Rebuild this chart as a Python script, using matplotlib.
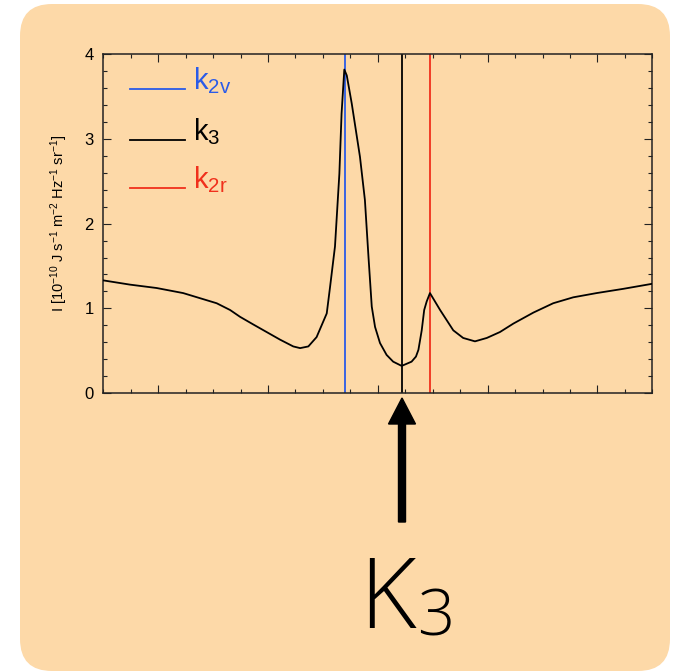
import numpy as np
import matplotlib
matplotlib.use('Agg')
import matplotlib.pyplot as plt
from matplotlib.patches import FancyBboxPatch, FancyArrow
from matplotlib.transforms import IdentityTransform
from matplotlib.ticker import MultipleLocator, FixedLocator, NullFormatter

plt.rcParams.update({'font.family': ['Liberation Sans', 'DejaVu Sans'],
                     'mathtext.fontset': 'custom',
                     'mathtext.rm': 'Liberation Sans',
                     'mathtext.it': 'Liberation Sans'})

# line profile
wave = [0, 0.97, 1.94, 2.91, 3.52, 4.13, 4.62, 4.98, 5.46, 5.95, 6.44, 6.92, 7.17, 7.47,
        7.77, 8.14, 8.26, 8.44, 8.6, 8.68, 8.78, 8.87, 9.05, 9.35, 9.53, 9.66, 9.78, 9.9,
        10.08, 10.32, 10.56, 10.87, 11.23, 11.39, 11.48, 11.6, 11.69, 11.78, 11.9, 12.27,
        12.75, 13.11, 13.54, 13.97, 14.45, 14.94, 15.67, 16.39, 17.12, 17.97, 18.94, 20]
intensity = [1.33, 1.28, 1.24, 1.18, 1.12, 1.06, 0.98, 0.90, 0.81, 0.72, 0.63, 0.55, 0.53,
             0.55, 0.66, 0.94, 1.25, 1.73, 2.59, 3.3, 3.82, 3.75, 3.42, 2.79, 2.28, 1.61,
             1.02, 0.78, 0.59, 0.45, 0.37, 0.32, 0.37, 0.43, 0.51, 0.74, 0.98, 1.08, 1.18,
             0.98, 0.74, 0.65, 0.61, 0.65, 0.72, 0.82, 0.95, 1.06, 1.13, 1.18, 1.23, 1.29]

k2v, k3, k2r = 8.79, 10.87, 11.9
line_names = [r'$\mathregular{k_{2v}}$', r'$\mathregular{k_3}$', r'$\mathregular{k_{2r}}$']
line_pos = [k2v, k3, k2r]
line_colors = ['#2a5be8', 'black', '#f0301c']
legend_y = [3.59, 2.99, 2.42]

W, H = 679, 671
fig = plt.figure(figsize=(W / 100, H / 100), dpi=100)
fig.patch.set_facecolor('white')

bg = FancyBboxPatch((20 + 32, 0 + 32), 650 - 64, 667 - 64,
                    boxstyle='round,pad=32', transform=IdentityTransform(),
                    facecolor='#fdd9a8', edgecolor='none', zorder=-5)
fig.patches.append(bg)

ax = fig.add_axes([103.3 / W, 1 - 393 / H, 549 / W, 338.7 / H])
ax.set_facecolor('none')
ax.plot(wave, intensity, color='black', lw=1.3, zorder=3)
for p, c in zip(line_pos, line_colors):
    ax.axvline(p, color=c, lw=1.3, zorder=2)

for name, c, ly in zip(line_names, line_colors, legend_y):
    ax.plot([0.97, 2.98], [ly, ly], color=c, lw=1.3)
    ax.text(3.27, ly, name, color=c, fontsize=21, va='baseline', ha='left')

ax.set_xlim(0, 20)
ax.set_ylim(0, 4)
ax.xaxis.set_major_locator(FixedLocator([2, 6, 10, 14, 18]))
ax.xaxis.set_minor_locator(MultipleLocator(1))
ax.xaxis.set_major_formatter(NullFormatter())
ax.yaxis.set_major_locator(MultipleLocator(1))
ax.yaxis.set_minor_locator(MultipleLocator(0.2))
ax.tick_params(which='both', direction='in', top=True, right=True, width=0.8,
               color='#222222')
ax.tick_params(which='major', length=5.5, labelsize=12, pad=7)
ax.tick_params(which='minor', length=3)
for s in ax.spines.values():
    s.set_linewidth(1.1)
    s.set_color('#222222')

ax.set_ylabel(r'I [10$^{\mathregular{-10}}$ J s$^{\mathregular{-1}}$ m$^{\mathregular{-2}}$ '
              r'Hz$^{\mathregular{-1}}$ sr$^{\mathregular{-1}}$]', fontsize=10.5, labelpad=10)

# arrow pointing at k3
arrow = FancyArrow(402, H - 522, 0, 124, width=7, head_width=27, head_length=26,
                   length_includes_head=True, transform=IdentityTransform(),
                   color='black')
fig.patches.append(arrow)

fig.text(359, H - 628, 'K', transform=IdentityTransform(), fontsize=70,
         family=['Open Sans', 'DejaVu Sans'], fontweight='light', va='baseline')
fig.text(417, H - 636, '3', transform=IdentityTransform(), fontsize=47,
         family=['Open Sans', 'DejaVu Sans'], fontweight='light', va='baseline')

fig.savefig('out.png', dpi=100)
